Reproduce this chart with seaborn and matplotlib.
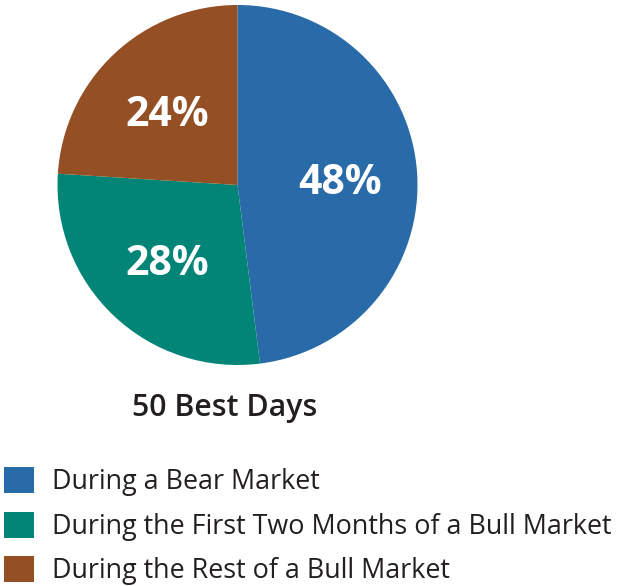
import matplotlib
matplotlib.use("Agg")
import matplotlib.pyplot as plt
import seaborn as sns
from matplotlib.patches import Patch

categories = ["During a Bear Market",
              "During the First Two Months of a Bull Market",
              "During the Rest of a Bull Market"]
values = [48, 28, 24]
colors = ["#286BA8", "#028577", "#944F24"]
title = "50 Best Days"

sns.set_theme(style="white")
plt.rcParams['font.family'] = ['Open Sans', 'DejaVu Sans']

W, H = 619, 586
fig = plt.figure(figsize=(W / 100, H / 100), dpi=100)
ax = fig.add_axes([57 / W, (H - 365) / H, 361 / W, 360 / H])

wedges, texts, autotexts = ax.pie(
    values, colors=colors, startangle=90, counterclock=False,
    autopct=lambda p: f"{p:.0f}%", pctdistance=0.57,
    textprops=dict(color="white", fontsize=29.5, fontweight="bold"),
    wedgeprops=dict(linewidth=0))
for t in autotexts:
    t.set_va("center_baseline")
ax.set_aspect("equal")
ax.set_xlim(-1, 1)
ax.set_ylim(-1, 1)

fig.text(225 / W, 1 - 408 / H, title, ha="center", va="center",
         fontsize=21.8, fontweight="semibold", color="#231F20")

handles = [Patch(facecolor=c, edgecolor="none") for c in colors]
leg = fig.legend(handles, categories, loc="upper left",
                 bbox_to_anchor=(4 / W, 1 - 467 / H), frameon=False,
                 fontsize=19.4, handlelength=1.11, handleheight=1.11,
                 handletextpad=0.67, labelspacing=0.57, borderpad=0,
                 borderaxespad=0)
for t in leg.get_texts():
    t.set_color("#231F20")

fig.savefig("out.png", dpi=100)
